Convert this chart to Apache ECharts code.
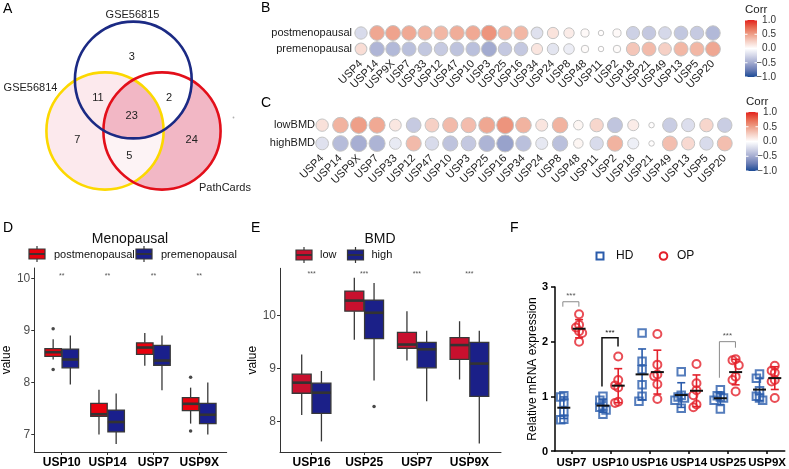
<!DOCTYPE html>
<html><head><meta charset="utf-8">
<script src="https://cdn.jsdelivr.net/npm/echarts@6/dist/echarts.min.js"></script>
<style>html,body{margin:0;padding:0;background:#fff}#c{width:789px;height:469px}</style>
</head><body><div id="c"></div>
<script>
// ================= DATA =================
// Panel A - Venn
const vennSets = ['GSE56815', 'GSE56814', 'PathCards'];
const vennRegions = ['GSE56815 only', 'GSE56814 only', 'PathCards only', 'GSE56815&GSE56814', 'GSE56815&PathCards', 'GSE56814&PathCards', 'all three'];
const vennCounts = [3, 7, 24, 11, 2, 5, 23];

// Panels B & C - correlation bubbles
const usps = ['USP4','USP14','USP9X','USP7','USP33','USP12','USP47','USP10','USP3','USP25','USP16','USP34','USP24','USP8','USP48','USP11','USP2','USP18','USP21','USP49','USP13','USP5','USP20'];
const menoRows = ['postmenopausal', 'premenopausal'];
const corrPost = [-0.22, 0.46, 0.48, 0.45, 0.40, 0.38, 0.43, 0.45, 0.55, 0.38, 0.38, -0.18, 0.15, 0.10, 0.03, 0.01, 0.03, -0.28, -0.33, -0.24, -0.34, -0.32, -0.42];
const corrPre  = [0.18, -0.44, -0.42, -0.38, -0.34, -0.32, -0.36, -0.38, -0.50, -0.33, -0.33, 0.14, -0.16, -0.11, 0.02, 0.01, 0.02, 0.30, 0.36, 0.25, 0.38, 0.38, 0.46];
const bmdRows = ['lowBMD', 'highBMD'];
const corrLow  = [0.16, 0.40, 0.50, 0.45, 0.13, -0.32, 0.25, 0.36, 0.35, 0.46, 0.55, 0.40, 0.14, 0.40, 0.05, 0.22, -0.35, 0.10, 0.01, -0.30, -0.20, 0.22, -0.30];
const corrHigh = [-0.18, -0.40, -0.48, -0.45, -0.13, 0.36, -0.22, -0.36, -0.33, -0.45, -0.55, -0.38, -0.14, -0.38, 0.05, -0.22, 0.40, -0.10, 0.01, 0.34, 0.20, -0.22, 0.34];
const corrTicks = [-1, -0.5, 0, 0.5, 1];

// Panel D - boxplots [min, q1, median, q3, max]
const dGenes = ['USP10', 'USP14', 'USP7', 'USP9X'];
const dGroups = ['postmenopausal', 'premenopausal'];
const dPost = [[8.44, 8.50, 8.58, 8.65, 8.83], [7.00, 7.35, 7.39, 7.60, 7.86], [8.32, 8.54, 8.67, 8.76, 8.95], [7.21, 7.46, 7.59, 7.71, 7.90]];
const dPre  = [[7.96, 8.28, 8.44, 8.64, 8.90], [6.82, 7.05, 7.24, 7.47, 7.79], [7.85, 8.33, 8.42, 8.71, 8.90], [7.00, 7.21, 7.38, 7.60, 8.00]];
const dPostOutliers = [[0, 9.03], [0, 8.25], [3, 8.10], [3, 7.07]];
const dTicks = [7, 8, 9, 10];
const dSig = ['**', '**', '**', '**'];

// Panel E - boxplots
const eGenes = ['USP16', 'USP25', 'USP7', 'USP9X'];
const eGroups = ['low', 'high'];
const eLow  = [[8.12, 8.53, 8.73, 8.89, 9.26], [9.54, 10.08, 10.28, 10.46, 10.71], [9.15, 9.38, 9.45, 9.68, 10.08], [8.79, 9.17, 9.44, 9.58, 9.89]];
const eHigh = [[7.62, 8.15, 8.54, 8.72, 8.95], [8.77, 9.56, 10.05, 10.29, 10.61], [8.38, 9.01, 9.36, 9.49, 9.71], [7.58, 8.47, 9.09, 9.49, 9.71]];
const eHighOutliers = [[1, 8.28]];
const eTicks = [8, 9, 10];
const eSig = ['***', '***', '***', '***'];

// Panel F - relative mRNA expression (6 samples per group)
const fGenes = ['USP7', 'USP10', 'USP16', 'USP14', 'USP25', 'USP9X'];
const fGroups = ['HD', 'OP'];
const fHD = [[1.01, 0.99, 0.88, 0.72, 0.58, 0.57], [1.00, 0.93, 0.83, 0.80, 0.75, 0.67], [2.16, 1.64, 1.49, 1.21, 1.00, 0.91], [1.45, 1.02, 0.99, 0.97, 0.93, 0.78], [1.12, 1.01, 0.99, 0.97, 0.93, 0.77], [1.41, 1.33, 1.10, 1.00, 0.97, 0.93]];
const fOP = [[2.50, 2.31, 2.26, 2.19, 2.16, 2.00], [1.73, 1.30, 1.20, 1.16, 0.90, 0.88], [2.14, 1.58, 1.40, 1.37, 1.22, 0.95], [1.59, 1.24, 1.11, 1.02, 0.85, 0.80], [1.68, 1.66, 1.57, 1.36, 1.30, 1.09], [1.56, 1.47, 1.43, 1.30, 1.27, 0.97]];
const fTicks = [0, 1, 2, 3];
const fSigGenes = ['USP7', 'USP10', 'USP25'];
const fSigLabels = ['***', '***', '***'];

// ================= LAYOUT / STYLE =================
const FONT = '"Liberation Sans", Arial, Helvetica, sans-serif';
const font = (sz, w) => (w || 'normal') + ' ' + sz + 'px ' + FONT;
const CORR_COLORS = ['#1b4a95', '#6a7db5', '#a3abd0', '#d3d6e8', '#ffffff', '#f6d0c5', '#ee9f88', '#e8684f', '#e3211c'];

// Venn geometry (grid units = px of the venn grid)
const VC = [{cx: 133.3, cy: 80, r: 58.4, stroke: '#1b2a84'}, {cx: 105, cy: 131, r: 58.6, stroke: '#fcd800'}, {cx: 162, cy: 131, r: 58.6, stroke: '#e30f1a'}];
const vennSetPos = [[132.5, 15], [30.5, 88], [225, 188]];
const vennLabelPos = [[131.7, 57], [77.3, 139.5], [191.7, 140], [98, 97.5], [169, 97.5], [129.3, 156], [131.7, 116]];
const vennFill = n => n >= 20 ? '#f2b7c5' : n >= 7 ? '#fce9ed' : n >= 4 ? '#fdf3f5' : '#ffffff';

function inside(p, c, tol) { return Math.hypot(p[0] - c.cx, p[1] - c.cy) < c.r + (tol || 0); }
function inter(a, b) {
  const dx = b.cx - a.cx, dy = b.cy - a.cy, d = Math.hypot(dx, dy);
  const l = (a.r * a.r - b.r * b.r + d * d) / (2 * d), h = Math.sqrt(a.r * a.r - l * l);
  const mx = a.cx + l * dx / d, my = a.cy + l * dy / d;
  return [[mx + h * dy / d, my - h * dx / d], [mx - h * dy / d, my + h * dx / d]];
}
function arc(c, p, q, others) {
  const a0 = Math.atan2(p[1] - c.cy, p[0] - c.cx), a1 = Math.atan2(q[1] - c.cy, q[0] - c.cx);
  let d = a1 - a0;
  while (d <= -Math.PI) d += 2 * Math.PI;
  while (d > Math.PI) d -= 2 * Math.PI;
  const ok = dd => { const am = a0 + dd / 2; const m = [c.cx + c.r * Math.cos(am), c.cy + c.r * Math.sin(am)]; return others.every(o => inside(m, o)); };
  if (!ok(d)) d = d > 0 ? d - 2 * Math.PI : d + 2 * Math.PI;
  const pts = [];
  for (let i = 0; i <= 60; i++) { const a = a0 + d * i / 60; pts.push([c.cx + c.r * Math.cos(a), c.cy + c.r * Math.sin(a)]); }
  return pts;
}
function circlePts(c) { const pts = []; for (let i = 0; i < 120; i++) { const a = i / 120 * 2 * Math.PI; pts.push([c.cx + c.r * Math.cos(a), c.cy + c.r * Math.sin(a)]); } return pts; }
function lens(a, b) { const [p, q] = inter(a, b); return arc(a, p, q, [b]).concat(arc(b, q, p, [a])); }
function triple(B, Y, R) {
  const pYR = inter(Y, R).find(p => inside(p, B, 0.5));
  const pBR = inter(B, R).find(p => inside(p, Y, 0.5));
  const pBY = inter(B, Y).find(p => inside(p, R, 0.5));
  return arc(R, pYR, pBR, [B, Y]).concat(arc(B, pBR, pBY, [Y, R]), arc(Y, pBY, pYR, [B, R]));
}
const [CB, CY, CR] = VC;
const vennLayers = [
  {pts: circlePts(CR), region: 2},
  {pts: circlePts(CY), region: 1},
  {pts: lens(CY, CR), region: 5},
  {pts: circlePts(CB), region: 0},
  {pts: lens(CB, CY), region: 3},
  {pts: triple(CB, CY, CR), region: 6}
];

function sizeFn(arrs, dmin, dmax) {
  const abs = [].concat(...arrs).map(Math.abs);
  const lo = Math.min(...abs), hi = Math.max(...abs);
  return v => dmin + (dmax - dmin) * Math.pow((Math.abs(v[2]) - lo) / (hi - lo), 0.4);
}
function bubbleData(rowsArr) {
  const out = [];
  rowsArr.forEach((arr, r) => arr.forEach((v, i) => out.push([i, r, v])));
  return out;
}

function boxRender(fill, w) {
  return function (params, api) {
    const x = api.value(0);
    const lo = api.coord([x, api.value(1)]), q1 = api.coord([x, api.value(2)]), md = api.coord([x, api.value(3)]), q3 = api.coord([x, api.value(4)]), hi = api.coord([x, api.value(5)]);
    const bw = api.size([w, 0])[0];
    const cx = lo[0];
    const ls = {stroke: '#383838', lineWidth: 1.3};
    return {type: 'group', children: [
      {type: 'line', shape: {x1: cx, y1: hi[1], x2: cx, y2: q3[1]}, style: ls},
      {type: 'line', shape: {x1: cx, y1: q1[1], x2: cx, y2: lo[1]}, style: ls},
      {type: 'rect', shape: {x: cx - bw / 2, y: q3[1], width: bw, height: q1[1] - q3[1]}, style: {fill: fill, stroke: '#383838', lineWidth: 1.3}},
      {type: 'line', shape: {x1: cx - bw / 2, y1: md[1], x2: cx + bw / 2, y2: md[1]}, style: {stroke: '#333', lineWidth: 2.6}}
    ]};
  };
}
function textRender(labels, sz, color) {
  return function (params, api) {
    const p = api.coord([api.value(0), api.value(1)]);
    return {type: 'text', x: p[0], y: p[1], style: {text: labels[params.dataIndex], font: font(sz), fill: color, textAlign: 'center', textVerticalAlign: 'middle'}};
  };
}
function colorbarRender(params, api) {
  const t = api.coord([0, 1]), b = api.coord([1, -1]);
  const stops = CORR_COLORS.slice().reverse().map((c, i, a) => ({offset: i / (a.length - 1), color: c}));
  const ch = [{type: 'rect', shape: {x: t[0], y: t[1], width: b[0] - t[0], height: b[1] - t[1]}, style: {fill: new echarts.graphic.LinearGradient(0, 0, 0, 1, stops)}}];
  corrTicks.forEach(v => {
    const y = api.coord([0, v])[1];
    ch.push({type: 'line', shape: {x1: t[0], y1: y, x2: t[0] + 2.5, y2: y}, style: {stroke: '#fff', lineWidth: 1}});
    ch.push({type: 'line', shape: {x1: b[0] - 2.5, y1: y, x2: b[0], y2: y}, style: {stroke: '#fff', lineWidth: 1}});
  });
  return {type: 'group', children: ch};
}
function spread(vals, base) {
  const placed = [];
  return vals.map(v => {
    const near = placed.filter(p => Math.abs(p.v - v) < 0.12).map(p => p.o);
    const cands = [0, -0.08, 0.08, -0.16, 0.16];
    let o = cands.find(c => !near.some(n => Math.abs(n - c) < 0.01));
    if (o === undefined) o = 0;
    placed.push({v: v, o: o});
    return [base + o, v];
  });
}
function meanSd(arr) {
  const m = arr.reduce((a, b) => a + b, 0) / arr.length;
  const sd = Math.sqrt(arr.reduce((a, b) => a + (b - m) * (b - m), 0) / (arr.length - 1));
  return [m, sd];
}
function errRender(color) {
  return function (params, api) {
    const x = api.value(0), m = api.value(1), sd = api.value(2);
    const c = api.coord([x, m]), t = api.coord([x, m + sd]), b = api.coord([x, m - sd]);
    const st = {stroke: color, lineWidth: 1.6};
    return {type: 'group', children: [
      {type: 'line', shape: {x1: c[0], y1: t[1], x2: c[0], y2: b[1]}, style: st},
      {type: 'line', shape: {x1: c[0] - 4, y1: t[1], x2: c[0] + 4, y2: t[1]}, style: st},
      {type: 'line', shape: {x1: c[0] - 4, y1: b[1], x2: c[0] + 4, y2: b[1]}, style: st},
      {type: 'line', shape: {x1: c[0] - 6.5, y1: c[1], x2: c[0] + 6.5, y2: c[1]}, style: {stroke: '#111', lineWidth: 2}}
    ]};
  };
}
const F_OFF = 0.195;
const fBracketLayout = [
  {y: 2.73, yl: 2.64, yr: 2.64, color: '#8a8a8a', lw: 1},
  {y: 2.07, yl: 1.18, yr: 1.91, color: '#111', lw: 1.5},
  {y: 2.00, yl: 1.34, yr: 1.89, color: '#8a8a8a', lw: 1}
];
function bracketRender(params, api) {
  const i = params.dataIndex, L = fBracketLayout[i];
  const g = api.value(0);
  const a = api.coord([g - 0.22, L.y]), b = api.coord([g + 0.19, L.y]);
  const al = api.coord([g - 0.22, L.yl]), br = api.coord([g + 0.19, L.yr]);
  const tp = api.coord([g - 0.015, L.y + 0.1]);
  const st = {stroke: L.color, lineWidth: L.lw};
  return {type: 'group', children: [
    {type: 'polyline', shape: {points: [al, a, b, br]}, style: Object.assign({fill: 'none'}, st)},
    {type: 'text', x: tp[0], y: tp[1], style: {text: fSigLabels[i], font: font(8), fill: L.color === '#111' ? '#111' : '#555', textAlign: 'center', textVerticalAlign: 'middle'}}
  ]};
}

const hiddenAxis = (gi, min, max, inv) => ({gridIndex: gi, type: 'value', min: min, max: max, show: false, inverse: !!inv});
const catX = (gi, margin) => ({gridIndex: gi, type: 'category', data: usps, axisLine: {show: false}, axisTick: {show: false}, splitLine: {show: false},
  axisLabel: {interval: 0, rotate: 45, fontSize: 11, color: '#1a1a1a', margin: margin, fontFamily: FONT}});
const catY = (gi, rows, margin) => ({gridIndex: gi, type: 'category', data: rows, inverse: true, axisLine: {show: false}, axisTick: {show: false}, splitLine: {show: false},
  axisLabel: {fontSize: 11, color: '#1a1a1a', margin: margin, fontFamily: FONT}});
const barY = gi => ({gridIndex: gi, type: 'value', min: -1, max: 1, interval: 0.5, position: 'right', axisLine: {show: false}, axisTick: {show: false}, splitLine: {show: false},
  axisLabel: {align: 'right', margin: 19, fontSize: 10, color: '#333', fontFamily: FONT, formatter: v => (v < 0 ? '\u2212' : '') + Math.abs(v).toFixed(1)}});
const ggX = (gi, genes) => ({gridIndex: gi, type: 'value', min: 0.4, max: 4.6, splitLine: {show: false},
  axisLine: {show: true, lineStyle: {color: '#333', width: 1}},
  axisTick: {show: true, customValues: [1, 2, 3, 4], length: 3, lineStyle: {color: '#333'}},
  axisLabel: {customValues: [1, 2, 3, 4], formatter: v => genes[Math.round(v) - 1], fontWeight: 'bold', fontSize: 12, color: '#000', margin: 5, fontFamily: FONT}});
const ggY = (gi, min, max, ticks, gap) => ({gridIndex: gi, type: 'value', min: min, max: max, splitLine: {show: false},
  axisLine: {show: true, lineStyle: {color: '#333', width: 1}},
  axisTick: {show: true, customValues: ticks, length: 3, lineStyle: {color: '#333'}},
  axisLabel: {customValues: ticks, color: '#4d4d4d', fontSize: 12, margin: 4, fontFamily: FONT},
  name: 'value', nameLocation: 'middle', nameGap: gap, nameTextStyle: {fontSize: 12, color: '#000', fontFamily: FONT}});

const boxSeries = (xi, arr, sign, fill) => ({type: 'custom', xAxisIndex: xi, yAxisIndex: xi, renderItem: boxRender(fill, 0.36),
  encode: {x: 0, y: [1, 2, 3, 4, 5]}, data: arr.map((b, i) => [i + 1 + sign * 0.1875].concat(b)), silent: true, z: 2});

const option = {
  animation: false,
  textStyle: {fontFamily: FONT},
  grid: [
    {left: 0, top: 0, width: 260, height: 220},
    {left: 353, top: 25, width: 368, height: 32},
    {left: 745, top: 20, width: 12, height: 57},
    {left: 313, top: 116, width: 420.9, height: 36.6},
    {left: 746, top: 112, width: 12, height: 59},
    {left: 26.7, top: 268, width: 200, height: 185.3},
    {left: 280, top: 268.3, width: 221, height: 185},
    {left: 555, top: 287, width: 230, height: 164.7},
    {left: 530, top: 287, width: 25, height: 164.7}
  ],
  xAxis: [
    hiddenAxis(0, 0, 260), catX(1, 5), hiddenAxis(2, 0, 1), catX(3, 4), hiddenAxis(4, 0, 1),
    ggX(5, dGenes), ggX(6, eGenes),
    {gridIndex: 7, type: 'value', min: -0.42, max: 5.45, splitLine: {show: false},
      axisLine: {show: true, onZero: false, lineStyle: {color: '#000', width: 1.5}},
      axisTick: {show: true, customValues: [0, 1, 2, 3, 4, 5], length: 3, lineStyle: {color: '#000', width: 1.5}},
      axisLabel: {customValues: [0, 1, 2, 3, 4, 5], formatter: v => fGenes[Math.round(v)], fontWeight: 'bold', fontSize: 11.5, color: '#000', margin: 6, fontFamily: FONT}},
    hiddenAxis(8, 0, 1)
  ],
  yAxis: [
    hiddenAxis(0, 0, 220, true), catY(1, menoRows, 1), barY(2), catY(3, bmdRows, -2), barY(4),
    ggY(5, 6.665, 10.196, dTicks, 18), ggY(6, 7.42, 10.89, eTicks, 15),
    {gridIndex: 7, type: 'value', min: 0, max: 3, splitLine: {show: false},
      axisLine: {show: true, onZero: false, lineStyle: {color: '#000', width: 1.5}},
      axisTick: {show: true, customValues: fTicks, length: 4, lineStyle: {color: '#000', width: 1.5}},
      axisLabel: {show: false},
      name: 'Relative mRNA expression', nameLocation: 'middle', nameGap: 16, nameTextStyle: {fontSize: 12, color: '#000', fontFamily: FONT}},
    // companion axis sharing F's value scale; its labels are F's tick labels
    {gridIndex: 8, type: 'value', min: 0, max: 3, position: 'right', splitLine: {show: false},
      axisLine: {show: false}, axisTick: {show: false},
      axisLabel: {customValues: fTicks, showMinLabel: true, showMaxLabel: true, hideOverlap: false, inside: false, align: 'right', margin: -7,
        fontSize: 11, fontWeight: 'bold', color: '#000', fontFamily: FONT}}
  ],
  visualMap: [{show: false, type: 'continuous', min: -1, max: 1, dimension: 2, seriesIndex: [3, 5], inRange: {color: CORR_COLORS}}],
  series: [
    {type: 'custom', xAxisIndex: 0, yAxisIndex: 0, silent: true, data: vennLayers.map((l, i) => [i, 0]),
      renderItem: (params, api) => {
        const L = vennLayers[params.dataIndex];
        return {type: 'polygon', shape: {points: L.pts.map(p => api.coord(p))}, style: {fill: vennFill(vennCounts[L.region]), stroke: null}};
      }},
    {type: 'custom', xAxisIndex: 0, yAxisIndex: 0, silent: true, data: [[1, 0], [2, 0], [0, 0]],
      renderItem: (params, api) => {
        const k = api.value(0), c = VC[k];
        const p = api.coord([c.cx, c.cy]), r = api.size([c.r, 0])[0];
        const tp = api.coord(vennSetPos[k]);
        return {type: 'group', children: [
          {type: 'circle', shape: {cx: p[0], cy: p[1], r: r}, style: {fill: 'none', stroke: c.stroke, lineWidth: 2.6}},
          {type: 'text', x: tp[0], y: tp[1], style: {text: vennSets[k], font: font(11), fill: '#222', textAlign: 'center', textVerticalAlign: 'middle'}}
        ]};
      }},
    {type: 'custom', xAxisIndex: 0, yAxisIndex: 0, silent: true, data: vennCounts.map((n, i) => [vennLabelPos[i][0], vennLabelPos[i][1], n]),
      renderItem: (params, api) => {
        const p = api.coord([api.value(0), api.value(1)]);
        return {type: 'text', x: p[0], y: p[1], style: {text: String(api.value(2)), font: font(11), fill: '#222', textAlign: 'center', textVerticalAlign: 'middle'}};
      }},
    {type: 'scatter', xAxisIndex: 1, yAxisIndex: 1, silent: true, data: bubbleData([corrPost, corrPre]),
      symbolSize: sizeFn([corrPost, corrPre], 5.5, 15.5), itemStyle: {borderColor: '#c4c4c4', borderWidth: 1, opacity: 1}},
    {type: 'custom', xAxisIndex: 2, yAxisIndex: 2, silent: true, data: [[0.5, 0]], renderItem: colorbarRender},
    {type: 'scatter', xAxisIndex: 3, yAxisIndex: 3, silent: true, data: bubbleData([corrLow, corrHigh]),
      symbolSize: sizeFn([corrLow, corrHigh], 5.5, 17), itemStyle: {borderColor: '#c4c4c4', borderWidth: 1, opacity: 1}},
    {type: 'custom', xAxisIndex: 4, yAxisIndex: 4, silent: true, data: [[0.5, 0]], renderItem: colorbarRender},
    boxSeries(5, dPost, -1, '#e8000d'),
    boxSeries(5, dPre, 1, '#1a1f8c'),
    {type: 'scatter', xAxisIndex: 5, yAxisIndex: 5, silent: true, symbolSize: 3.5, itemStyle: {color: '#1a1a1a'}, z: 3,
      data: dPostOutliers.map(o => [o[0] + 1 - 0.1875, o[1]])},
    {type: 'custom', xAxisIndex: 5, yAxisIndex: 5, silent: true, data: dSig.map((s, i) => [i + 1, 10.05]), renderItem: textRender(dSig, 7, '#555')},
    boxSeries(6, eLow, -1, '#c8102e'),
    boxSeries(6, eHigh, 1, '#1b2088'),
    {type: 'scatter', xAxisIndex: 6, yAxisIndex: 6, silent: true, symbolSize: 3.5, itemStyle: {color: '#1a1a1a'}, z: 3,
      data: eHighOutliers.map(o => [o[0] + 1 + 0.1875, o[1]])},
    {type: 'custom', xAxisIndex: 6, yAxisIndex: 6, silent: true, data: eSig.map((s, i) => [i + 1, 10.78]), renderItem: textRender(eSig, 7, '#555')},
    {name: 'HD', type: 'scatter', xAxisIndex: 7, yAxisIndex: 7, silent: true, symbol: 'rect', symbolSize: 7.5, z: 2,
      itemStyle: {color: 'rgba(255,255,255,0)', borderColor: '#2b5cab', borderWidth: 2},
      data: [].concat(...fHD.map((vals, g) => spread(vals, g - F_OFF)))},
    {name: 'OP', type: 'scatter', xAxisIndex: 7, yAxisIndex: 7, silent: true, symbol: 'circle', symbolSize: 8, z: 2,
      itemStyle: {color: 'rgba(255,255,255,0)', borderColor: '#e3202a', borderWidth: 2},
      data: [].concat(...fOP.map((vals, g) => spread(vals, g + F_OFF)))},
    {type: 'custom', xAxisIndex: 7, yAxisIndex: 7, silent: true, z: 3, data: fHD.map((v, g) => [g - F_OFF].concat(meanSd(v))), renderItem: errRender('#2b5cab')},
    {type: 'custom', xAxisIndex: 7, yAxisIndex: 7, silent: true, z: 3, data: fOP.map((v, g) => [g + F_OFF].concat(meanSd(v))), renderItem: errRender('#e3202a')},
    {type: 'custom', xAxisIndex: 7, yAxisIndex: 7, silent: true, z: 3, data: fSigGenes.map(g => [fGenes.indexOf(g), 2]), renderItem: bracketRender}
  ],
  graphic: (function () {
    const g = [];
    const txt = (x, y, t, sz, opts) => g.push(Object.assign({type: 'text', x: x, y: y, silent: true,
      style: Object.assign({text: t, font: font(sz), fill: '#000', textAlign: 'left', textVerticalAlign: 'top'}, opts || {})}));
    txt(3, 2, 'A', 14); txt(261, 1, 'B', 14); txt(261, 96, 'C', 14);
    txt(3, 221, 'D', 14); txt(251, 221, 'E', 14); txt(510, 221, 'F', 14);
    txt(745, 4, 'Corr', 11.5, {fill: '#222'});
    txt(746, 96, 'Corr', 11.5, {fill: '#222'});
    txt(130, 239, 'Menopausal', 14, {textAlign: 'center', textVerticalAlign: 'middle', fill: '#111'});
    txt(380, 239, 'BMD', 14, {textAlign: 'center', textVerticalAlign: 'middle', fill: '#111'});
    const key = (x, y, fill) => {
      g.push({type: 'line', silent: true, shape: {x1: x + 8, y1: y - 3, x2: x + 8, y2: y + 13}, style: {stroke: '#383838', lineWidth: 1.2}});
      g.push({type: 'rect', silent: true, shape: {x: x, y: y, width: 16, height: 10}, style: {fill: fill, stroke: '#383838', lineWidth: 1.2}});
      g.push({type: 'line', silent: true, shape: {x1: x, y1: y + 5, x2: x + 16, y2: y + 5}, style: {stroke: '#333', lineWidth: 1.8}});
    };
    key(29, 249, '#e8000d'); key(136, 249, '#1a1f8c');
    txt(54, 254.5, dGroups[0], 11, {textVerticalAlign: 'middle', fill: '#111'});
    txt(161, 254.5, dGroups[1], 11, {textVerticalAlign: 'middle', fill: '#111'});
    key(296, 250, '#c8102e'); key(347.5, 250, '#1b2088');
    txt(320, 255, eGroups[0], 11, {textVerticalAlign: 'middle', fill: '#111'});
    txt(371.5, 255, eGroups[1], 11, {textVerticalAlign: 'middle', fill: '#111'});
    g.push({type: 'rect', silent: true, shape: {x: 596.5, y: 252.5, width: 7, height: 7}, style: {fill: 'none', stroke: '#2b5cab', lineWidth: 2}});
    txt(616, 256, fGroups[0], 12, {textVerticalAlign: 'middle', fill: '#111'});
    g.push({type: 'circle', silent: true, shape: {cx: 663.5, cy: 256, r: 3.8}, style: {fill: 'none', stroke: '#e3202a', lineWidth: 2}});
    txt(677, 256, fGroups[1], 12, {textVerticalAlign: 'middle', fill: '#111'});
    g.push({type: 'circle', silent: true, shape: {cx: 233.5, cy: 117.5, r: 0.9}, style: {fill: '#b0b0b0'}});
    return g;
  })()
};

const chart = echarts.init(document.getElementById('c'), null, {renderer: 'canvas'});
chart.setOption(option);
</script>
</body></html>
